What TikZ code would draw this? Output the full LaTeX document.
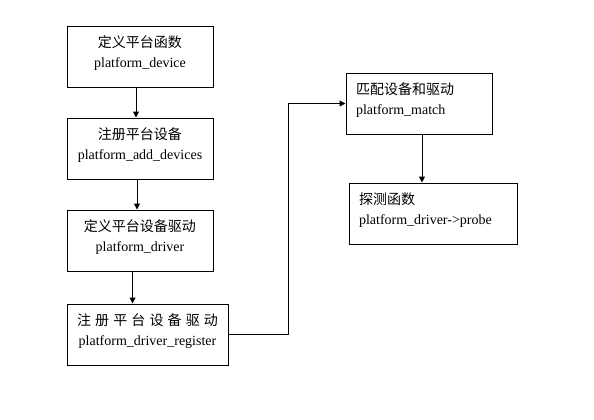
\documentclass[tikz,border=0pt]{standalone}
\usepackage{fontspec}
\setmainfont{Liberation Serif}
\newfontfamily\cjk{Noto Sans CJK SC}
\usetikzlibrary{arrows.meta,positioning}

\begin{document}
\begin{tikzpicture}[
  x=0.75pt,y=-0.75pt,
  box/.style={draw,line width=0.75pt,minimum height=45.75pt,inner sep=0pt,text depth=21.8pt,font=\fontsize{10.5pt}{15pt}\selectfont},
  cbox/.style={box,align=center,text width=109.5pt},
  lbox/.style={box,align=left,inner xsep=7.5pt},
  arrow/.style={-{Triangle[length=4.5pt,width=4.5pt]},line width=0.75pt}
]
  \useasboundingbox (0,0) rectangle (594,419);
  \node[cbox] (dev) at (140,56.5) {{\cjk 定义平台函数}\\platform\_device};
  \node[cbox,below right=22.5pt and 0pt of dev.south west] (add) {{\cjk 注册平台设备}\\platform\_add\_devices};
  \node[cbox,below right=22.5pt and 0pt of add.south west] (drv) {{\cjk 定义平台设备驱动}\\platform\_driver};
  \node[cbox,text width=120.75pt,below right=24pt and 0pt of drv.south west] (reg) {\makebox[105.75pt][s]{\cjk 注\hfil 册\hfil 平\hfil 台\hfil 设\hfil 备\hfil 驱\hfil 动}\\platform\_driver\_register};
  \node[lbox,text width=94.5pt] (match) at (419,103.5) {{\cjk 匹配设备和驱动}\\platform\_match};
  \node[lbox,text width=111pt] (probe) at (433,213.5) {{\cjk 探测函数}\\platform\_driver->probe};

  \draw[arrow] ([xshift=-3pt]dev.south) -- ([xshift=-3pt]dev.south |- add.north);
  \draw[arrow] ([xshift=-2.25pt]add.south) -- ([xshift=-2.25pt]add.south |- drv.north);
  \draw[arrow] ([xshift=-5.6pt]drv.south) -- ([xshift=-5.6pt]drv.south |- reg.north);
  \draw[arrow] (reg.east) -- ++(60,0) |- (match.west);
  \draw[arrow] ([xshift=2.25pt]match.south) -- ([xshift=2.25pt]match.south |- probe.north);
\end{tikzpicture}
\end{document}
